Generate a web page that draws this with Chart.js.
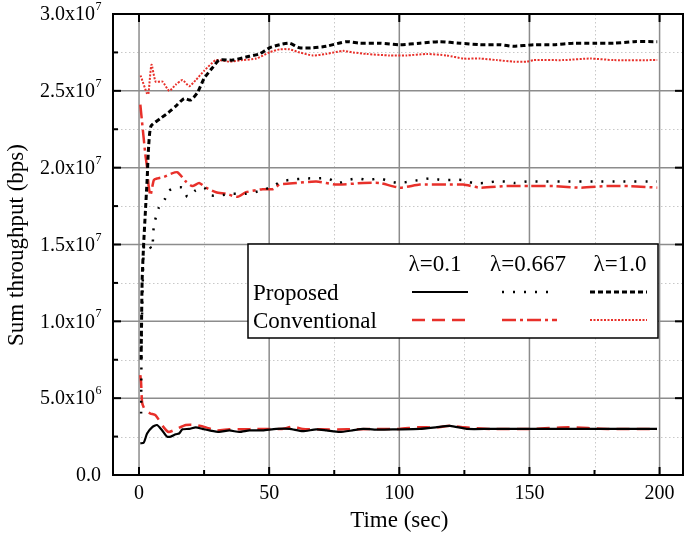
<!DOCTYPE html>
<html>
<head>
<meta charset="utf-8">
<script src="https://cdn.jsdelivr.net/npm/chart.js@4/dist/chart.umd.min.js"></script>
<style>
  html, body { margin: 0; padding: 0; background: #fff; }
  #wrap { width: 685px; height: 537px; }
</style>
</head>
<body>
<div id="wrap"><canvas id="chart" width="685" height="537"></canvas></div>
<script>
// values are in units of 1e7 bps
const tPropA = [0.5, 1.8, 3.1, 5.0, 6.9, 8.9, 10.8, 12.2, 14.1, 15.4, 16.7, 19.3, 21.8, 24.4, 27.0, 30.8, 34.7, 38.5, 42.4, 47.5, 52.7, 57.8, 62.9, 68.1, 72, 77.1, 82, 86.1, 92, 98.9, 107.9, 114, 119.5, 125.9, 135, 145, 155, 165, 175, 185, 199];
const vPropA = [0.206, 0.21, 0.27, 0.31, 0.325, 0.29, 0.25, 0.25, 0.265, 0.27, 0.297, 0.30, 0.31, 0.30, 0.29, 0.28, 0.29, 0.28, 0.29, 0.29, 0.30, 0.30, 0.285, 0.297, 0.29, 0.28, 0.29, 0.30, 0.295, 0.297, 0.30, 0.31, 0.32, 0.30, 0.30, 0.30, 0.30, 0.30, 0.30, 0.30, 0.30];

const tPropB = [0.8, 1.0, 1.5, 2.0, 3.5, 5.0, 5.7, 7.6, 10.1, 11.4, 14.1, 16.7, 18.6, 21.6, 25, 27.6, 30.8, 36, 41, 46.9, 51.4, 54.6, 57.8, 64.2, 68.1, 72.6, 76.4, 80.3, 84.1, 88, 92.5, 96.3, 100.2, 104, 107.9, 111.8, 116.3, 120.1, 124, 128.4, 132.3, 136.8, 140.7, 144.5, 149, 155, 165, 175, 185, 199];
const vPropB = [0.40, 0.9, 1.3, 1.5, 1.5, 1.47, 1.62, 1.74, 1.80, 1.85, 1.87, 1.87, 1.81, 1.85, 1.87, 1.82, 1.82, 1.83, 1.83, 1.85, 1.88, 1.91, 1.92, 1.93, 1.93, 1.93, 1.90, 1.92, 1.93, 1.92, 1.93, 1.91, 1.90, 1.91, 1.92, 1.93, 1.92, 1.92, 1.92, 1.90, 1.90, 1.91, 1.91, 1.90, 1.91, 1.91, 1.91, 1.91, 1.91, 1.91];

const tPropC = [0.8, 1.2, 1.8, 2.4, 3.1, 3.7, 4.6, 8.2, 11.4, 14.1, 17.3, 19.9, 22.5, 25, 28.2, 30.8, 36, 41.1, 46.2, 50.1, 54, 57.8, 61.7, 66.8, 71.9, 79.7, 84.8, 92.5, 100.2, 107.9, 115.6, 123.3, 131, 138.7, 143.9, 151.6, 159.3, 167, 174.7, 182.4, 190.1, 199.1];
const vPropC = [0.75, 1.27, 1.51, 1.70, 1.92, 2.14, 2.27, 2.32, 2.36, 2.40, 2.45, 2.44, 2.49, 2.58, 2.65, 2.70, 2.70, 2.72, 2.74, 2.78, 2.80, 2.81, 2.78, 2.78, 2.79, 2.82, 2.81, 2.81, 2.80, 2.81, 2.82, 2.81, 2.80, 2.80, 2.79, 2.80, 2.80, 2.81, 2.81, 2.81, 2.82, 2.82];

const tConvA = [0.5, 0.8, 1.2, 2.4, 4.4, 6.3, 9.5, 11.4, 14.1, 18, 21.8, 25.7, 29.6, 34.7, 40, 45, 50, 55, 59.1, 62.9, 70, 80, 90, 100, 107, 114.3, 119.5, 125, 135, 150, 165, 180, 199];
const vConvA = [0.65, 0.60, 0.47, 0.42, 0.40, 0.39, 0.31, 0.28, 0.297, 0.325, 0.325, 0.31, 0.29, 0.297, 0.297, 0.30, 0.30, 0.30, 0.315, 0.30, 0.297, 0.297, 0.30, 0.30, 0.31, 0.31, 0.32, 0.31, 0.30, 0.30, 0.31, 0.30, 0.30];

const tConvB = [0.5, 2.4, 3.1, 3.7, 4.4, 5.7, 7.1, 9.6, 12.2, 14.8, 18, 20.5, 23.1, 25.7, 29.6, 33.4, 37.9, 41.1, 47.5, 51.4, 54, 60.4, 68.1, 75.8, 86.1, 92.5, 100.2, 107.9, 118.2, 124.6, 131, 141.3, 150.3, 159.3, 169.6, 179.8, 188.8, 199.1];
const vConvB = [2.41, 2.09, 2.0, 1.88, 1.82, 1.92, 1.93, 1.94, 1.96, 1.97, 1.91, 1.88, 1.90, 1.87, 1.84, 1.83, 1.81, 1.84, 1.86, 1.86, 1.89, 1.90, 1.91, 1.89, 1.90, 1.90, 1.87, 1.89, 1.89, 1.89, 1.87, 1.88, 1.88, 1.88, 1.87, 1.88, 1.88, 1.87];

const tConvC = [0.6, 3.1, 3.6, 4.8, 6.4, 9.0, 11.6, 14.1, 16.7, 19.3, 21.8, 25, 29.6, 34.7, 39.8, 45, 50.1, 54, 57.8, 61.7, 66.8, 71.9, 78.4, 82.2, 87.4, 96.3, 102.8, 110.5, 118.2, 124.6, 131, 137.5, 143.9, 149, 151.6, 163.1, 173.4, 182.4, 199.1];
const vConvC = [2.60, 2.48, 2.48, 2.67, 2.56, 2.56, 2.50, 2.54, 2.57, 2.53, 2.57, 2.63, 2.70, 2.69, 2.70, 2.71, 2.75, 2.77, 2.77, 2.75, 2.73, 2.74, 2.76, 2.75, 2.74, 2.73, 2.73, 2.74, 2.73, 2.71, 2.71, 2.70, 2.69, 2.69, 2.70, 2.70, 2.71, 2.70, 2.70];

const xTicks = [0, 50, 100, 150, 200];
const xMinorTicks = [25, 75, 125, 175];
const yTicks = [0, 0.5, 1.0, 1.5, 2.0, 2.5, 3.0];
const yMinorTicks = [0.25, 0.75, 1.25, 1.75, 2.25, 2.75];
const yTickLabels = [['0.0', ''], ['5.0x10', '6'], ['1.0x10', '7'], ['1.5x10', '7'], ['2.0x10', '7'], ['2.5x10', '7'], ['3.0x10', '7']];
const lambdas = ['\u03bb=0.1', '\u03bb=0.667', '\u03bb=1.0'];
const schemes = ['Proposed', 'Conventional'];

const RED = '#e8302a';
const FONT = '"Liberation Serif", "Times New Roman", serif';

const styles = [
  { color: '#000', width: 2.2, dash: [] },
  { color: '#000', width: 2.5, dash: [2, 9] },
  { color: '#000', width: 3, dash: [5, 3] },
  { color: RED, width: 2.5, dash: [13, 7] },
  { color: RED, width: 2.5, dash: [14, 4, 3, 4] },
  { color: RED, width: 2, dash: [2, 1.5] }
];

function pts(ts, vs) { return ts.map((t, i) => ({ x: t, y: vs[i] })); }

const series = [
  pts(tPropA, vPropA), pts(tPropB, vPropB), pts(tPropC, vPropC),
  pts(tConvA, vConvA), pts(tConvB, vConvB), pts(tConvC, vConvC)
];

const frame = {
  id: 'frame',
  beforeDatasetsDraw(chart) {
    const { ctx, chartArea: a, scales: { x, y } } = chart;
    ctx.save();
    ctx.lineWidth = 1;
    ctx.strokeStyle = '#c8c8c8';
    ctx.setLineDash([1.5, 2.5]);
    xMinorTicks.forEach(v => {
      const px = Math.round(x.getPixelForValue(v)) + 0.5;
      ctx.beginPath(); ctx.moveTo(px, a.top); ctx.lineTo(px, a.bottom); ctx.stroke();
    });
    yMinorTicks.forEach(v => {
      const py = Math.round(y.getPixelForValue(v)) + 0.5;
      ctx.beginPath(); ctx.moveTo(a.left, py); ctx.lineTo(a.right, py); ctx.stroke();
    });
    ctx.setLineDash([]);
    ctx.strokeStyle = '#8c8c8c';
    ctx.lineWidth = 1.5;
    xTicks.forEach(v => {
      const px = x.getPixelForValue(v);
      ctx.beginPath(); ctx.moveTo(px, a.top); ctx.lineTo(px, a.bottom); ctx.stroke();
    });
    yTicks.forEach(v => {
      const py = y.getPixelForValue(v);
      ctx.beginPath(); ctx.moveTo(a.left, py); ctx.lineTo(a.right, py); ctx.stroke();
    });
    ctx.restore();
  },
  afterDatasetsDraw(chart) {
    const { ctx, chartArea: a, scales: { x, y } } = chart;
    ctx.save();
    // box
    ctx.strokeStyle = '#000';
    ctx.lineWidth = 2;
    ctx.strokeRect(a.left, a.top, a.right - a.left, a.bottom - a.top);

    // inward ticks
    const tick = (x1, y1, x2, y2) => { ctx.beginPath(); ctx.moveTo(x1, y1); ctx.lineTo(x2, y2); ctx.stroke(); };
    xTicks.forEach(v => {
      const px = x.getPixelForValue(v);
      tick(px, a.bottom, px, a.bottom - 8);
      tick(px, a.top, px, a.top + 8);
    });
    xMinorTicks.forEach(v => {
      const px = x.getPixelForValue(v);
      tick(px, a.bottom, px, a.bottom - 5);
    });
    yTicks.forEach(v => {
      const py = y.getPixelForValue(v);
      tick(a.left, py, a.left + 8, py);
      tick(a.right, py, a.right - 8, py);
    });
    yMinorTicks.forEach(v => {
      const py = y.getPixelForValue(v);
      tick(a.left, py, a.left + 5, py);
    });

    // tick labels
    ctx.fillStyle = '#000';
    ctx.font = '20px ' + FONT;
    ctx.textAlign = 'center';
    ctx.textBaseline = 'middle';
    xTicks.forEach(v => ctx.fillText(String(v), x.getPixelForValue(v), 494));

    yTicks.forEach((v, i) => {
      const [main, sup] = yTickLabels[i];
      const py = y.getPixelForValue(v);
      ctx.font = '20px ' + FONT;
      const wm = ctx.measureText(main).width;
      ctx.font = '12px ' + FONT;
      const ws = ctx.measureText(sup).width;
      const x0 = 101 - wm - ws;
      ctx.textAlign = 'left';
      ctx.font = '20px ' + FONT;
      ctx.fillText(main, x0, py + 1);
      ctx.font = '12px ' + FONT;
      ctx.fillText(sup, x0 + wm + 0.5, py - 7);
    });

    // axis titles
    ctx.font = '23px ' + FONT;
    ctx.textAlign = 'center';
    ctx.fillText('Time (sec)', x.getPixelForValue(100), 521);
    ctx.save();
    ctx.translate(17, 245);
    ctx.rotate(-Math.PI / 2);
    ctx.fillText('Sum throughput (bps)', 0, 0);
    ctx.restore();

    // legend
    const L = { left: 248, top: 244, right: 658, bottom: 338 };
    ctx.fillStyle = '#fff';
    ctx.fillRect(L.left, L.top, L.right - L.left, L.bottom - L.top);
    ctx.strokeStyle = '#000';
    ctx.lineWidth = 1.5;
    ctx.strokeRect(L.left, L.top, L.right - L.left, L.bottom - L.top);

    ctx.fillStyle = '#000';
    ctx.font = '23px ' + FONT;
    ctx.textAlign = 'center';
    const colX = [435, 528, 620];
    lambdas.forEach((s, i) => ctx.fillText(s, colX[i], 265));
    ctx.textAlign = 'left';
    const rowY = [294, 322];
    schemes.forEach((s, i) => ctx.fillText(s, 253, rowY[i]));
    const sampleX = [[412, 468], [502, 557], [590, 647]];
    for (let r = 0; r < 2; r++) {
      for (let c = 0; c < 3; c++) {
        const st = styles[r * 3 + c];
        ctx.strokeStyle = st.color;
        ctx.lineWidth = st.width;
        ctx.setLineDash(st.dash);
        ctx.beginPath();
        ctx.moveTo(sampleX[c][0], rowY[r] - 2);
        ctx.lineTo(sampleX[c][1], rowY[r] - 2);
        ctx.stroke();
      }
    }
    ctx.setLineDash([]);
    ctx.restore();
  }
};

new Chart(document.getElementById('chart').getContext('2d'), {
  type: 'line',
  data: {
    datasets: series.map((d, i) => ({
      data: d,
      borderColor: styles[i].color,
      borderWidth: styles[i].width,
      borderDash: styles[i].dash,
      borderCapStyle: 'butt',
      pointRadius: 0,
      fill: false,
      tension: 0.2
    }))
  },
  options: {
    responsive: false,
    animation: false,
    layout: { padding: { left: 113, top: 14, right: 2, bottom: 62 } },
    plugins: { legend: { display: false }, tooltip: { enabled: false } },
    scales: {
      x: { type: 'linear', min: -10, max: 209, display: false },
      y: { type: 'linear', min: 0, max: 3, display: false }
    }
  },
  plugins: [frame]
});
</script>
</body>
</html>
